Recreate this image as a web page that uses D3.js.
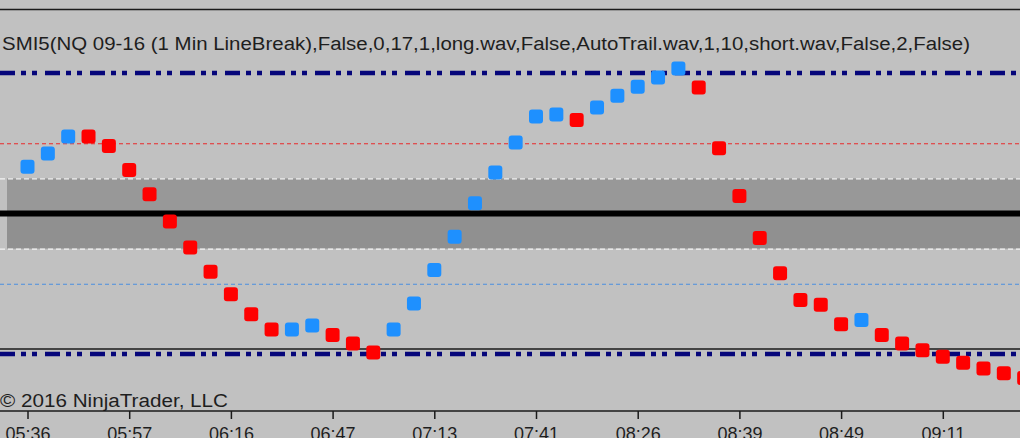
<!DOCTYPE html>
<html>
<head>
<meta charset="utf-8">
<script src="https://cdn.jsdelivr.net/npm/d3@7"></script>
<style>
  html, body { margin: 0; padding: 0; background: #c0c0c0; overflow: hidden; }
  svg { display: block; }
  text { font-family: "Liberation Sans", Arial, sans-serif; fill: #1e1e1e; }
</style>
</head>
<body>
<svg id="chart" width="1020" height="438"></svg>
<script>
// ---------------- data ----------------
const titleText = "SMI5(NQ 09-16 (1 Min LineBreak),False,0,17,1,long.wav,False,AutoTrail.wav,1,10,short.wav,False,2,False)";
const copyrightText = "\u00A9 2016 NinjaTrader, LLC";

const smiValues = [13.3, 17.1, 21.9, 21.9, 19.2, 12.4, 5.5, -2.3, -9.7, -16.6,
                   -23.0, -28.7, -33.0, -33.0, -31.9, -34.6, -37.0, -39.6, -33.0, -25.6,
                   -16.1, -6.6, 2.9, 11.7, 20.2, 27.6, 28.2, 26.6, 30.2, 33.5,
                   36.1, 38.7, 41.3, 35.9, 18.6, 5.0, -7.0, -17.0, -24.6, -26.0,
                   -31.5, -30.3, -34.6, -37.0, -38.9, -40.8, -42.5, -44.1, -45.5, -46.8];
const directions = ["U","U","U","D","D","D","D","D","D","D",
                    "D","D","D","U","U","D","D","D","U","U",
                    "U","U","U","U","U","U","U","D","U","U",
                    "U","U","U","D","D","D","D","D","D","D",
                    "D","U","D","D","D","D","D","D","D","D"];
const tickBars = [0, 5, 10, 15, 20, 25, 30, 35, 40, 45];
const tickLabels = ["05:36","05:57","06:16","06:47","07:13","07:41","08:26","08:39","08:49","09:11"];
const outerLevels = [40, -40];
const upperLevel = 20, lowerLevel = -20;
const bandLevels = [10, -10];
const zeroLevel = 0;

// ---------------- layout ----------------
const W = 1020, H = 438;
const svg = d3.select("#chart");
const x = d3.scaleLinear().domain([0, smiValues.length - 1]).range([27.5, 27.5 + 49 * 20.34]);
const y = d3.scaleLinear().domain([-40, 40]).range([354, 73]);

// background
svg.append("rect").attr("x", 0).attr("y", 0).attr("width", W).attr("height", H).attr("fill", "#c1c1c1");

// top border
svg.append("line").attr("x1", 0).attr("x2", W).attr("y1", 9.5).attr("y2", 9.5)
  .attr("stroke", "#1a1a1a").attr("stroke-width", 1.5);

// gray neutral band
svg.append("rect").attr("x", 7).attr("width", W - 7)
  .attr("y", y(bandLevels[0])).attr("height", y(zeroLevel) - y(bandLevels[0]))
  .attr("fill", "#989898");
svg.append("rect").attr("x", 7).attr("width", W - 7)
  .attr("y", y(zeroLevel)).attr("height", y(bandLevels[1]) - y(zeroLevel))
  .attr("fill", "#909090");

// band borders (white dashed)
svg.selectAll("line.band").data(bandLevels).enter().append("line")
  .attr("x1", 0).attr("x2", W)
  .attr("y1", d => y(d) + 0.5).attr("y2", d => y(d) + 0.5)
  .attr("stroke", "#f4f4f4").attr("stroke-width", 1.2).attr("stroke-dasharray", "5,3");

// upper red dashed / lower blue dashed
svg.append("line").attr("x1", 0).attr("x2", W)
  .attr("y1", y(upperLevel) + 0.5).attr("y2", y(upperLevel) + 0.5)
  .attr("stroke", "#e8282a").attr("stroke-width", 1).attr("stroke-dasharray", "4,3");
svg.append("line").attr("x1", 0).attr("x2", W)
  .attr("y1", y(lowerLevel) + 0.5).attr("y2", y(lowerLevel) + 0.5)
  .attr("stroke", "#4a8ee0").attr("stroke-width", 1).attr("stroke-dasharray", "4,3");

// zero line
svg.append("line").attr("x1", 0).attr("x2", W)
  .attr("y1", y(zeroLevel)).attr("y2", y(zeroLevel))
  .attr("stroke", "#000").attr("stroke-width", 6);

// panel bottom border
svg.append("line").attr("x1", 0).attr("x2", W).attr("y1", 349).attr("y2", 349)
  .attr("stroke", "#1a1a1a").attr("stroke-width", 1.5);

// outer dash-dot-dot navy lines
svg.selectAll("line.outer").data(outerLevels).enter().append("line")
  .attr("x1", 0).attr("x2", W)
  .attr("y1", d => y(d)).attr("y2", d => y(d))
  .attr("stroke", "#06067a").attr("stroke-width", 4.5)
  .attr("stroke-dasharray", "15,6,5,6,5,8");

// title
svg.append("text").attr("x", 2).attr("y", 50).attr("font-size", 18)
  .attr("textLength", 968).attr("lengthAdjust", "spacingAndGlyphs")
  .text(titleText);

// markers
const sz = 14;
svg.selectAll("rect.pt").data(smiValues).enter().append("rect")
  .attr("class", "pt")
  .attr("x", (d, i) => x(i) - sz / 2)
  .attr("y", d => y(d) - sz / 2)
  .attr("width", sz).attr("height", sz).attr("rx", 3).attr("ry", 3)
  .attr("fill", (d, i) => directions[i] === "U" ? "#1e90ff" : "#ff0000");

// copyright
svg.append("text").attr("x", 0).attr("y", 407).attr("font-size", 18)
  .attr("textLength", 228).attr("lengthAdjust", "spacingAndGlyphs")
  .text(copyrightText);

// x axis
svg.append("line").attr("x1", 0).attr("x2", W).attr("y1", 411).attr("y2", 411)
  .attr("stroke", "#1a1a1a").attr("stroke-width", 1.5);
const axis = d3.axisBottom(x)
  .tickValues(tickBars)
  .tickFormat((d, i) => tickLabels[i])
  .tickSizeInner(8).tickSizeOuter(0).tickPadding(8);
const gAxis = svg.append("g").attr("transform", "translate(0,411)").call(axis);
gAxis.select(".domain").remove();
gAxis.selectAll(".tick line").attr("stroke", "#1a1a1a").attr("stroke-width", 1.5);
gAxis.selectAll(".tick text").attr("font-size", 18)
  .attr("font-family", "'Liberation Sans', Arial, sans-serif").attr("fill", "#1e1e1e");
</script>
</body>
</html>
